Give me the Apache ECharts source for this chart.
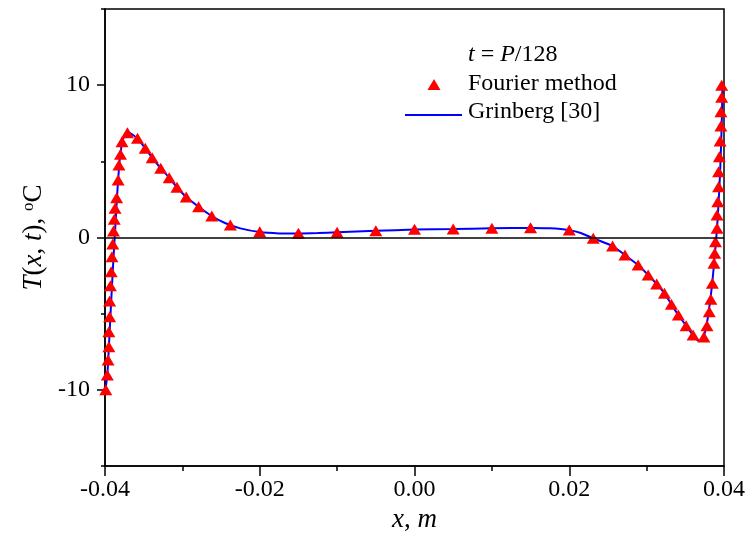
<!DOCTYPE html>
<html>
<head>
<meta charset="utf-8">
<title>T(x, t) at t = P/128</title>
<script src="https://cdn.jsdelivr.net/npm/echarts@6/dist/echarts.min.js"></script>
<style>
  html, body { margin: 0; padding: 0; background: #fff; }
  #chart { width: 748px; height: 534px; }
</style>
</head>
<body>
<div id="chart"></div>
<script>
// Fourier method (triangles): x in m, T in deg C
const fourierX = [
  // left wall, bottom to peak
  -0.0399, -0.0397, -0.0396, -0.0395, -0.0395, -0.0394, -0.0394, -0.0393, -0.0392, -0.0391,
  -0.0390, -0.0389, -0.0388, -0.0387, -0.0385, -0.0383, -0.0382, -0.0380, -0.0378, -0.0371,
  // decay and middle
  -0.0358, -0.0348, -0.0339, -0.0328, -0.0317, -0.0307, -0.0295, -0.0279, -0.0262, -0.0238,
  -0.020, -0.015, -0.010, -0.005, 0.000, 0.005, 0.010, 0.015, 0.020, 0.0231,
  // drop to the dip
  0.0256, 0.0272, 0.0289, 0.0302, 0.0313, 0.0323, 0.0332, 0.0341, 0.0351, 0.0360, 0.0374,
  // right wall
  0.0378, 0.0381, 0.0383, 0.0385, 0.0387, 0.0388, 0.0389, 0.0391, 0.0391, 0.0392,
  0.0393, 0.0393, 0.0394, 0.0395, 0.0396, 0.0396, 0.0397, 0.0397
];
const fourierT = [
  -10.0, -9.03, -8.04, -7.17, -6.18, -5.20, -4.17, -3.16, -2.25, -1.26,
  -0.43, 0.43, 1.19, 1.92, 2.61, 3.77, 4.76, 5.46, 6.29, 6.88,
  6.51, 5.86, 5.24, 4.54, 3.93, 3.30, 2.66, 2.02, 1.41, 0.82,
  0.38, 0.28, 0.34, 0.45, 0.54, 0.56, 0.60, 0.64, 0.49, -0.05,
  -0.56, -1.15, -1.81, -2.46, -3.05, -3.66, -4.39, -5.09, -5.79, -6.40, -6.53,
  -5.79, -4.87, -4.06, -3.01, -1.69, -1.04, -0.28, 0.60, 1.48, 2.35,
  3.33, 4.32, 5.30, 6.33, 7.32, 8.26, 9.20, 10.0
];

// Grinberg [30] (solid line)
const grinbergX = [
  -0.0400, -0.0397, -0.0395, -0.0393, -0.0391, -0.0389, -0.0387, -0.0385, -0.0383, -0.0381,
  -0.0379, -0.0377, -0.0374, -0.0371, -0.0366, -0.0358, -0.0348, -0.0339, -0.0328, -0.0317,
  -0.0307, -0.0295, -0.0279, -0.0262, -0.0245, -0.0225, -0.020, -0.0175, -0.015, -0.0125,
  -0.010, -0.005, 0.000, 0.005, 0.010, 0.015, 0.0175, 0.020, 0.0215, 0.0231,
  0.0256, 0.0272, 0.0289, 0.0302, 0.0313, 0.0323, 0.0332, 0.0341, 0.0351, 0.0360,
  0.0367, 0.0372, 0.0376, 0.0379, 0.0382, 0.0385, 0.0388, 0.0391, 0.0393, 0.0395,
  0.0397, 0.0398
];
const grinbergT = [
  -10.2, -9.0, -7.2, -5.2, -3.2, -1.3, 0.4, 2.2, 3.8, 5.1,
  5.9, 6.4, 6.8, 6.95, 6.8, 6.5, 5.86, 5.24, 4.54, 3.93,
  3.30, 2.66, 2.02, 1.41, 0.95, 0.60, 0.36, 0.27, 0.26, 0.29,
  0.34, 0.44, 0.52, 0.56, 0.60, 0.63, 0.60, 0.48, 0.30, -0.05,
  -0.56, -1.15, -1.81, -2.46, -3.05, -3.66, -4.39, -5.09, -5.79, -6.40,
  -6.78, -6.70, -6.10, -5.30, -4.20, -2.90, -1.20, 0.60, 2.30, 4.30,
  7.30, 10.0
];

// axis ticks
const xTicks = { min: -0.04, max: 0.04, step: 0.02 };
const yLabelValues = [-10, 0, 10];
const yMinorValues = [-15, -5, 5, 15];

const FONT = '"Liberation Serif", "DejaVu Serif", serif';
const TICK_SIZE = 24;
const TITLE_SIZE = 27;
const LEGEND_SIZE = 24;

const chart = echarts.init(document.getElementById('chart'));

const pairs = (xs, ys) => xs.map((x, i) => [x, ys[i]]);

const option = {
  animation: false,
  backgroundColor: '#fff',
  grid: {
    left: 105,
    right: 24,
    top: 9,
    bottom: 68,
    outerBoundsMode: 'none',
    show: true,
    borderColor: '#000',
    borderWidth: 1.5,
    backgroundColor: 'transparent'
  },
  xAxis: {
    type: 'value',
    min: xTicks.min,
    max: xTicks.max,
    interval: xTicks.step,
    name: '{i|x}{n|, }{i|m}',
    nameLocation: 'middle',
    nameGap: 40,
    nameTextStyle: {
      rich: {
        i: { fontFamily: FONT, fontSize: TITLE_SIZE, fontStyle: 'italic', color: '#000' },
        n: { fontFamily: FONT, fontSize: TITLE_SIZE, color: '#000' }
      }
    },
    axisLine: { onZero: false, lineStyle: { color: '#000', width: 1.5 } },
    axisTick: { length: 10, lineStyle: { color: '#000', width: 1.5 } },
    minorTick: { show: true, splitNumber: 2, length: 5, lineStyle: { color: '#000', width: 1.5 } },
    splitLine: { show: false },
    minorSplitLine: { show: false },
    axisLabel: {
      margin: 12,
      fontFamily: FONT,
      fontSize: TICK_SIZE,
      color: '#000',
      formatter: v => v.toFixed(2)
    }
  },
  yAxis: [
    {
      type: 'value',
      min: -15,
      max: 15,
      interval: 5,
      name: '{i|T}{n|(}{i|x}{n|, }{i|t}{n|), }{s|o}{n|C}',
      nameLocation: 'middle',
      nameGap: 58,
      nameTextStyle: {
        rich: {
          i: { fontFamily: FONT, fontSize: TITLE_SIZE, fontStyle: 'italic', color: '#000' },
          n: { fontFamily: FONT, fontSize: TITLE_SIZE, color: '#000' },
          s: { fontFamily: FONT, fontSize: 17, color: '#000', verticalAlign: 'top' }
        }
      },
      axisLine: { onZero: false, lineStyle: { color: '#000', width: 1.5 } },
      axisTick: { length: 8, customValues: yLabelValues, lineStyle: { color: '#000', width: 1.5 } },
      splitLine: { show: false },
      axisLabel: {
        margin: 15,
        customValues: yLabelValues,
        fontFamily: FONT,
        fontSize: TICK_SIZE,
        color: '#000'
      }
    },
    {
      // minor ticks only
      type: 'value',
      min: -15,
      max: 15,
      interval: 5,
      position: 'left',
      axisLine: { show: false, onZero: false },
      axisTick: { length: 4, customValues: yMinorValues, lineStyle: { color: '#000', width: 1.5 } },
      axisLabel: { show: false },
      splitLine: { show: false }
    }
  ],
  series: [
    {
      name: 'Grinberg [30]',
      type: 'line',
      data: pairs(grinbergX, grinbergT),
      showSymbol: false,
      smooth: 0.2,
      lineStyle: { color: '#0000ff', width: 2 },
      markLine: {
        silent: true,
        symbol: 'none',
        label: { show: false },
        lineStyle: { color: '#000', width: 1.5, type: 'solid' },
        data: [{ yAxis: 0 }]
      },
      z: 2
    },
    {
      name: 'Fourier method',
      type: 'scatter',
      data: pairs(fourierX, fourierT),
      symbol: 'triangle',
      symbolSize: [13, 11],
      clip: false,
      itemStyle: { color: '#ff0000', opacity: 1 },
      z: 3
    }
  ],
  graphic: [
    {
      type: 'text',
      left: 468,
      top: 43,
      style: {
        text: '{i|t}{n| = }{i|P}{n|/128}',
        rich: {
          i: { fontFamily: FONT, fontSize: LEGEND_SIZE, fontStyle: 'italic', fill: '#000' },
          n: { fontFamily: FONT, fontSize: LEGEND_SIZE, fill: '#000' }
        }
      }
    },
    {
      type: 'polygon',
      shape: { points: [[434, 79], [427.5, 90], [440.5, 90]] },
      style: { fill: '#ff0000' }
    },
    {
      type: 'text',
      left: 468,
      top: 72,
      style: { text: 'Fourier method', fontFamily: FONT, fontSize: LEGEND_SIZE, fill: '#000' }
    },
    {
      type: 'line',
      shape: { x1: 405, y1: 115, x2: 462, y2: 115 },
      style: { stroke: '#0000ff', lineWidth: 2 }
    },
    {
      type: 'text',
      left: 468,
      top: 100,
      style: { text: 'Grinberg [30]', fontFamily: FONT, fontSize: LEGEND_SIZE, fill: '#000' }
    }
  ]
};

chart.setOption(option);
</script>
</body>
</html>
